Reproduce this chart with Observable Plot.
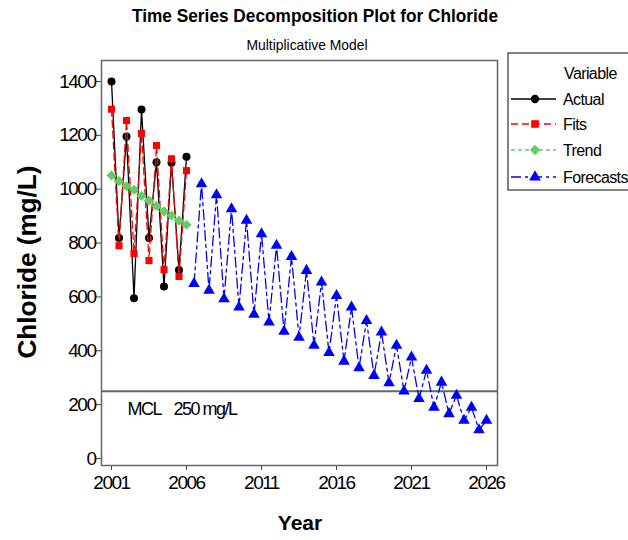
<!DOCTYPE html>
<html><head><meta charset="utf-8">
<script src="https://cdn.jsdelivr.net/npm/d3@7"></script>
<script src="https://cdn.jsdelivr.net/npm/@observablehq/plot@0.6"></script>
<style>
body{margin:0;background:#fff;}
svg{font-family:"Liberation Sans",Arial,sans-serif;}
</style>
</head><body><div id="chart"></div>
<script>
// ---- data ----
const fitYears = [2001,2001.5,2002,2002.5,2003,2003.5,2004,2004.5,2005,2005.5,2006];
const actual   = [1400,819,1196,595,1296,819,1100,639,1098,700,1121];
const fits     = [1297,790,1255,761,1207,735,1162,701,1113,676,1069];
const trend    = [1051,1030,1011,998,975,958,938,918,902,883,868];
const forecastYears = [2006.5,2007,2007.5,2008,2008.5,2009,2009.5,2010,2010.5,2011,
  2011.5,2012,2012.5,2013,2013.5,2014,2014.5,2015,2015.5,2016,
  2016.5,2017,2017.5,2018,2018.5,2019,2019.5,2020,2020.5,2021,
  2021.5,2022,2022.5,2023,2023.5,2024,2024.5,2025,2025.5,2026];
const forecasts = [649,1020,624,979,593,927,562,884,535,834,
  506,791,472,750,450,698,420,655,393,605,
  361,562,336,512,308,469,281,420,250,376,
  222,327,190,283,166,234,141,190,106,141];
const xTicks = [2001,2006,2011,2016,2021,2026];
const yTicks = [0,200,400,600,800,1000,1200,1400];
const mcl = 250;
const mclLabels = ["MCL","250 mg/L"];
const seriesNames = ["Actual","Fits","Trend","Forecasts"];
const titleText = "Time Series Decomposition Plot for Chloride";
const subtitleText = "Multiplicative Model";
const xLabel = "Year";
const yLabel = "Chloride (mg/L)";
const legendTitle = "Variable";

// ---- build ----
const rows = (xs, ys) => xs.map((x, i) => ({x, y: ys[i]}));
const A = rows(fitYears, actual), F = rows(fitYears, fits), T = rows(fitYears, trend), P = rows(forecastYears, forecasts);
const GREEN = "#66cc66";

const svgEl = Plot.plot({
  width: 628, height: 540,
  marginLeft: 101, marginRight: 131, marginTop: 60, marginBottom: 75,
  style: {fontSize: "19px", letterSpacing: "-1.5px", background: "#fff", color: "#000"},
  x: {domain: [2000.333, 2026.733], label: null},
  y: {domain: [-26, 1478], label: null},
  marks: [
    Plot.axisX({ticks: xTicks, tickFormat: d => String(d), tickSize: 5, tickPadding: 5, stroke: "#444", label: null}),
    Plot.axisY({ticks: yTicks, tickFormat: d => String(d), tickSize: 5, tickPadding: 1, stroke: "#444", label: null}),
    Plot.ruleY([mcl], {stroke: "#666", strokeWidth: 2}),
    Plot.text([{t: mclLabels[0], y: mcl}], {text: "t", y: "y", frameAnchor: "left", dx: 26, dy: 18, textAnchor: "start", fontSize: 18}),
    Plot.text([{t: mclLabels[1], y: mcl}], {text: "t", y: "y", frameAnchor: "left", dx: 72, dy: 18, textAnchor: "start", fontSize: 18}),
    Plot.line(A, {x: "x", y: "y", stroke: "black", strokeWidth: 1.3}),
    Plot.dot(A, {x: "x", y: "y", r: 4, fill: "black", symbol: "circle"}),
    Plot.line(F, {x: "x", y: "y", stroke: "red", strokeWidth: 1.3, strokeDasharray: "7,4"}),
    Plot.dot(F, {x: "x", y: "y", r: 4, fill: "red", symbol: "square"}),
    Plot.line(T, {x: "x", y: "y", stroke: GREEN, strokeWidth: 1.5, strokeDasharray: "4,3"}),
    Plot.dot(T, {x: "x", y: "y", r: 4.6, fill: GREEN, symbol: d3.symbolDiamond2}),
    Plot.line(P, {x: "x", y: "y", stroke: "blue", strokeWidth: 1.3, strokeDasharray: "10,4,3,4"}),
    Plot.dot(P, {x: "x", y: "y", r: 4.3, fill: "blue", symbol: "triangle"}),
    Plot.frame({stroke: "#666", strokeWidth: 1.5})
  ]
});
document.getElementById("chart").appendChild(svgEl);

const svg = d3.select(svgEl);
const g = svg.append("g").style("letter-spacing", "0px");
g.append("text").attr("x", 315).attr("y", 22).attr("text-anchor", "middle")
  .attr("font-weight", "bold").attr("font-size", 19)
  .attr("textLength", 366).attr("lengthAdjust", "spacingAndGlyphs").text(titleText);
g.append("text").attr("x", 307).attr("y", 50).attr("text-anchor", "middle")
  .attr("font-size", 15).attr("textLength", 121).attr("lengthAdjust", "spacingAndGlyphs").text(subtitleText);
g.append("text").attr("transform", "translate(36,262) rotate(-90)").attr("text-anchor", "middle")
  .attr("font-weight", "bold").attr("font-size", 25)
  .attr("textLength", 193).attr("lengthAdjust", "spacingAndGlyphs").text(yLabel);
g.append("text").attr("x", 300).attr("y", 530).attr("text-anchor", "middle")
  .attr("font-weight", "bold").attr("font-size", 21).text(xLabel);

// legend
const lg = svg.append("g").style("letter-spacing", "-0.6px").attr("font-size", 16).attr("text-anchor", "start");
lg.append("rect").attr("x", 508).attr("y", 53).attr("width", 140).attr("height", 137)
  .attr("fill", "white").attr("stroke", "#333").attr("stroke-width", 1.2);
lg.append("text").attr("x", 564).attr("y", 79).attr("text-anchor", "start").text(legendTitle);
const styles = [
  {color: "black", dash: null, sym: d3.symbolCircle, size: 55},
  {color: "red", dash: "7,4", sym: d3.symbolSquare, size: 58},
  {color: GREEN, dash: "4,3", sym: d3.symbolDiamond2, size: 70},
  {color: "blue", dash: "10,4,3,4", sym: d3.symbolTriangle, size: 60}
];
const rowY = [99, 124, 150, 177];
seriesNames.forEach((name, i) => {
  const s = styles[i], y = rowY[i];
  lg.append("line").attr("x1", 511).attr("x2", 556).attr("y1", y).attr("y2", y)
    .attr("stroke", s.color).attr("stroke-width", 1.3).attr("stroke-dasharray", s.dash);
  lg.append("path").attr("transform", `translate(535,${y})`).attr("d", d3.symbol(s.sym, s.size)()).attr("fill", s.color);
  lg.append("text").attr("x", 563).attr("y", y + 6).attr("text-anchor", "start").text(name);
});
</script>
</body></html>
